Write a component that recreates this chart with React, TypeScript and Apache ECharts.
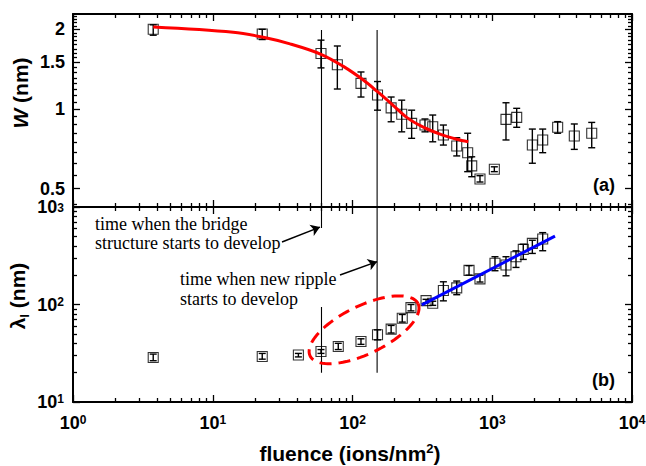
import React, { useEffect, useRef } from 'react';
import * as echarts from 'echarts';

// ---------- data ----------
// panel (a): ripple width W (nm)
const fluenceW = [3.75, 22.6, 59.5, 77.9, 115, 151, 189, 225, 265, 330, 375, 447, 557, 667, 713, 817, 1035, 1254, 1496, 1936, 2296, 2938, 3865, 5150];
const widthW = [2.0, 1.92, 1.62, 1.47, 1.25, 1.13, 1.01, 0.955, 0.883, 0.87, 0.857, 0.798, 0.725, 0.684, 0.61, 0.544, 0.592, 0.914, 0.93, 0.731, 0.764, 0.853, 0.791, 0.81];
const widthLow = [1.9, 1.83, 1.43, 1.19, 1.11, 0.99, 0.895, 0.82, 0.775, 0.82, 0.752, 0.731, 0.665, 0.58, 0.555, 0.53, 0.58, 0.764, 0.853, 0.624, 0.684, 0.81, 0.704, 0.714];
const widthHigh = [2.08, 2.0, 1.82, 1.73, 1.38, 1.27, 1.11, 1.08, 0.99, 0.917, 0.949, 0.87, 0.779, 0.81, 0.66, 0.56, 0.605, 1.056, 1.006, 0.84, 0.84, 0.896, 0.878, 0.89];

// red fit curve in (a)
const fitFluence = [3.75, 14, 22.6, 35.7, 59.5, 86, 119.5, 151, 185, 244, 321, 423, 557, 674];
const fitW = [2.04, 1.95, 1.87, 1.762, 1.61, 1.449, 1.287, 1.163, 1.06, 0.93, 0.854, 0.804, 0.769, 0.752];

// panel (b): wavelength lambda_l (nm)
const fluenceL = [3.75, 22.6, 41, 59.5, 79.1, 115, 151, 189, 227, 262, 336, 375, 447, 557, 682, 817, 1046, 1254, 1479, 1667, 1936, 2296];
const lambdaL = [28.6, 29.3, 30.3, 33.0, 37.1, 41.7, 48.9, 55.9, 72.4, 92.9, 109.7, 103, 139, 148, 224, 183, 265, 254, 309, 368, 424, 469];
const lambdaLow = [26.5, 27.5, 29.0, 31.5, 34.5, 39, 43.4, 51, 66, 86, 104, 98, 109, 126, 200, 170, 222, 197, 240, 290, 334, 356];
const lambdaHigh = [31, 31.5, 31.5, 34.5, 40, 44.5, 55, 61, 79, 100, 113, 108, 171, 174, 250, 200, 309, 309, 355, 415, 456, 546];

// blue power-law line in (b)
const linFluence = [313, 2812];
const linLambda = [99, 503];

// dashed ellipse in (b): centre (fluence, lambda), semi-axes in decades
const ellipseCentre = [121, 55];
const ellipseMajor = [0.386, 0.269];
const ellipseMinor = [0.075, -0.221];

// vertical marker lines
const markerFluence = [60, 150];
const markerTopW = 1.99;
const markerBottomSegments = [
  [60, 1000, 610],
  [60, 94.4, 20],
  [150, 1000, 20],
];

// arrows [fromFluence, fromLambda, toFluence, toLambda]
const arrows = [
  [31.3, 438, 58.5, 622],
  [81.4, 201, 150, 275],
];

// axis ticks / labels
const xMajor = [1, 10, 100, 1000, 10000];
const wMajor = [0.5, 1, 1.5, 2];
const lMajor = [10, 100, 1000];
const wRange = [0.4265, 2.285];

// ---------- helpers ----------
const L = (v: number) => Math.log10(v);
const SANS = "'Liberation Sans', Arial, Helvetica, sans-serif";
const SERIF = "'Liberation Serif', 'Times New Roman', serif";

const logMinors = (from: number, to: number) => {
  const out: number[] = [];
  for (let n = from; n < to; n++) for (let k = 2; k <= 9; k++) out.push(n + L(k));
  return out;
};
const xMinor = logMinors(0, 4);
const lMinor = logMinors(1, 3);
const wMinor: number[] = [];
for (let v = 0.4375; v < wRange[1]; v += 0.0625) {
  if (!wMajor.some((m) => Math.abs(m - v) < 1e-6)) wMinor.push(L(v));
}

const powRich = {
  b: { fontSize: 18, fontWeight: 'bold', fontFamily: SANS, color: '#000', lineHeight: 18, verticalAlign: 'bottom' },
  s: { fontSize: 12, fontWeight: 'bold', fontFamily: SANS, color: '#000', lineHeight: 11, verticalAlign: 'top' },
  // top label of panel (b) sits just under panel (a)'s lowest label
  b3: { fontSize: 18, fontWeight: 'bold', fontFamily: SANS, color: '#000', lineHeight: 18, padding: [5, 0, 0, 0], verticalAlign: 'bottom' },
  s3: { fontSize: 12, fontWeight: 'bold', fontFamily: SANS, color: '#000', lineHeight: 11, padding: [4, 0, 0, 0], verticalAlign: 'top' },
};

function axis(gridIndex: number, position: string, ext: number[], ticks: number[], len: number, line: boolean, label?: any) {
  return {
    type: 'value',
    gridIndex,
    position,
    min: ext[0],
    max: ext[1],
    splitLine: { show: false },
    minorTick: { show: false },
    axisPointer: { show: false },
    axisLine: { show: line, onZero: false, lineStyle: { color: '#000', width: 2 } },
    axisTick: { show: true, inside: true, length: len, customValues: ticks, lineStyle: { color: '#000', width: 1.3 } },
    axisLabel: label ?? { show: false },
  };
}

const xExt = [0, 4];
const wExt = [L(wRange[0]), L(wRange[1])];
const lExt = [1, 3];

const xLabel = {
  show: true,
  customValues: xMajor.map(L),
  margin: 12,
  formatter: (v: number) => `{b|10}{s|${Math.round(v)}}`,
  rich: powRich,
};
const wLabel = {
  show: true,
  customValues: wMajor.map(L),
  margin: 8,
  formatter: (v: number) => String(Number(Math.pow(10, v).toPrecision(3))),
  fontSize: 18,
  fontWeight: 'bold',
  fontFamily: SANS,
  color: '#000',
  lineHeight: 15,
};
const lLabel = {
  show: true,
  customValues: lMajor.map(L),
  margin: 9,
  formatter: (v: number) => {
    const n = Math.round(v);
    return n === 3 ? `{b3|10}{s3|${n}}` : `{b|10}{s|${n}}`;
  },
  rich: powRich,
};

const xAxes = [
  axis(0, 'bottom', xExt, xMajor.map(L), 7, true),
  axis(0, 'bottom', xExt, xMinor, 4, false),
  axis(0, 'top', xExt, xMajor.map(L), 7, true),
  axis(0, 'top', xExt, xMinor, 4, false),
  axis(1, 'bottom', xExt, xMajor.map(L), 7, true, xLabel),
  axis(1, 'bottom', xExt, xMinor, 4, false),
  axis(1, 'top', xExt, xMajor.map(L), 7, true),
  axis(1, 'top', xExt, xMinor, 4, false),
];
const yAxes = [
  axis(0, 'left', wExt, wMajor.map(L), 7, true, wLabel),
  axis(0, 'left', wExt, wMinor, 4, false),
  axis(0, 'right', wExt, wMajor.map(L), 7, true),
  axis(0, 'right', wExt, wMinor, 4, false),
  axis(1, 'left', lExt, lMajor.map(L), 7, true, lLabel),
  axis(1, 'left', lExt, lMinor, 4, false),
  axis(1, 'right', lExt, lMajor.map(L), 7, true),
  axis(1, 'right', lExt, lMinor, 4, false),
];

const errorBars = (xs: number[], lo: number[], hi: number[], ax: number) => ({
  type: 'custom',
  xAxisIndex: ax,
  yAxisIndex: ax,
  z: 3,
  silent: true,
  data: xs.map((x, i) => [L(x), L(lo[i]), L(hi[i])]),
  encode: { x: 0, y: [1, 2] },
  renderItem: (_p: any, api: any) => {
    const x = api.value(0);
    const a = api.coord([x, api.value(1)]);
    const b = api.coord([x, api.value(2)]);
    const w = 3.5;
    const st = { stroke: '#000', lineWidth: 1.4 };
    return {
      type: 'group',
      children: [
        { type: 'line', shape: { x1: a[0], y1: a[1], x2: b[0], y2: b[1] }, style: st },
        { type: 'line', shape: { x1: a[0] - w, y1: a[1], x2: a[0] + w, y2: a[1] }, style: st },
        { type: 'line', shape: { x1: b[0] - w, y1: b[1], x2: b[0] + w, y2: b[1] }, style: st },
      ],
    };
  },
});

const squares = (xs: number[], ys: number[], ax: number) => ({
  type: 'scatter',
  xAxisIndex: ax,
  yAxisIndex: ax,
  z: 4,
  symbol: 'rect',
  symbolSize: 10,
  data: xs.map((x, i) => [L(x), L(ys[i])]),
  itemStyle: { color: 'rgba(255,255,255,0)', borderColor: '#000', borderWidth: 1.1 },
});

const vline = (pts: number[][], ax: number) => ({
  type: 'line',
  xAxisIndex: ax,
  yAxisIndex: ax,
  z: 1,
  showSymbol: false,
  symbol: 'none',
  data: pts,
  lineStyle: { color: '#000', width: 1.1 },
});

const ellipsePts: number[][] = [];
for (let i = 0; i <= 96; i++) {
  const t = (2 * Math.PI * i) / 96;
  ellipsePts.push([
    L(ellipseCentre[0]) + ellipseMajor[0] * Math.cos(t) + ellipseMinor[0] * Math.sin(t),
    L(ellipseCentre[1]) + ellipseMajor[1] * Math.cos(t) + ellipseMinor[1] * Math.sin(t),
  ]);
}

const series: any[] = [
  ...markerFluence.map((f) => vline([[L(f), L(markerTopW)], [L(f), wExt[0]]], 0)),
  ...markerBottomSegments.map((s) => vline([[L(s[0]), L(s[1])], [L(s[0]), L(s[2])]], 4)),
  errorBars(fluenceW, widthLow, widthHigh, 0),
  squares(fluenceW, widthW, 0),
  errorBars(fluenceL, lambdaLow, lambdaHigh, 4),
  squares(fluenceL, lambdaL, 4),
  {
    type: 'line',
    xAxisIndex: 0,
    yAxisIndex: 0,
    z: 5,
    showSymbol: false,
    symbol: 'none',
    smooth: 0.35,
    data: fitFluence.map((f, i) => [L(f), L(fitW[i])]),
    lineStyle: { color: '#ff0000', width: 3 },
  },
  {
    type: 'line',
    xAxisIndex: 4,
    yAxisIndex: 4,
    z: 5,
    showSymbol: false,
    symbol: 'none',
    data: linFluence.map((f, i) => [L(f), L(linLambda[i])]),
    lineStyle: { color: '#0000ff', width: 3 },
  },
  {
    type: 'line',
    xAxisIndex: 4,
    yAxisIndex: 4,
    z: 5,
    showSymbol: false,
    symbol: 'none',
    data: ellipsePts,
    lineStyle: { color: '#ff0000', width: 3, type: [12, 7] },
  },
  {
    type: 'lines',
    coordinateSystem: 'cartesian2d',
    xAxisIndex: 4,
    yAxisIndex: 4,
    z: 6,
    symbol: ['none', 'arrow'],
    symbolSize: 9,
    data: arrows.map((a) => ({ coords: [[L(a[0]), L(a[1])], [L(a[2]), L(a[3])]] })),
    lineStyle: { color: '#000', width: 1.5, opacity: 1 },
  },
];

const txt = (text: string, x: number, y: number, extra: any = {}) => ({
  type: 'text',
  x,
  y,
  z: 10,
  style: { text, fill: '#000', verticalAlign: 'middle', align: 'left', ...extra },
});

const graphic = [
  txt('time when the bridge', 95, 224, { font: `18px ${SERIF}` }),
  txt('structure starts to develop', 95, 243, { font: `18px ${SERIF}` }),
  txt('time when new ripple', 180, 279, { font: `18px ${SERIF}` }),
  txt('starts to develop', 180, 299, { font: `18px ${SERIF}` }),
  txt('(a)', 615, 185, { font: `bold 18px ${SANS}`, align: 'right' }),
  txt('(b)', 615, 380, { font: `bold 18px ${SANS}`, align: 'right' }),
  {
    type: 'text',
    x: 350,
    y: 453,
    z: 10,
    style: {
      text: '{t|fluence (ions/nm}{s|2}{t|)}',
      align: 'center',
      verticalAlign: 'middle',
      fill: '#000',
      rich: {
        t: { fontSize: 21, fontWeight: 'bold', fontFamily: SANS, lineHeight: 22, verticalAlign: 'bottom' },
        s: { fontSize: 13, fontWeight: 'bold', fontFamily: SANS, lineHeight: 12, verticalAlign: 'top' },
      },
    },
  },
  {
    type: 'text',
    x: 20,
    y: 93,
    rotation: Math.PI / 2,
    z: 10,
    style: {
      text: '{i|W}{t| (nm)}',
      align: 'center',
      verticalAlign: 'middle',
      fill: '#000',
      rich: {
        i: { fontSize: 21, fontWeight: 'bold', fontStyle: 'italic', fontFamily: SANS },
        t: { fontSize: 21, fontWeight: 'bold', fontFamily: SANS },
      },
    },
  },
  {
    type: 'text',
    x: 19,
    y: 296,
    rotation: Math.PI / 2,
    z: 10,
    style: {
      text: '{t|λ}{u|l}{t| (nm)}',
      align: 'center',
      verticalAlign: 'middle',
      fill: '#000',
      rich: {
        t: { fontSize: 21, fontWeight: 'bold', fontFamily: SANS, lineHeight: 24, verticalAlign: 'top' },
        u: { fontSize: 13, fontWeight: 'bold', fontFamily: SANS, lineHeight: 14, verticalAlign: 'bottom' },
      },
    },
  },
];

const option: any = {
  animation: false,
  backgroundColor: '#ffffff',
  grid: [
    { left: 73, top: 14, width: 559, height: 193, containLabel: false, outerBoundsMode: 'none' },
    { left: 73, top: 207, width: 559, height: 195, containLabel: false, outerBoundsMode: 'none' },
  ],
  xAxis: xAxes,
  yAxis: yAxes,
  series,
  graphic,
};

export default function App() {
  const ref = useRef<HTMLDivElement>(null);
  useEffect(() => {
    const chart = echarts.init(ref.current!, null, { renderer: 'svg' });
    chart.setOption(option);
    return () => chart.dispose();
  }, []);
  return (
    <div
      ref={ref}
      style={{ position: 'fixed', left: 0, top: 0, width: 646, height: 466, background: '#fff' }}
    />
  );
}
